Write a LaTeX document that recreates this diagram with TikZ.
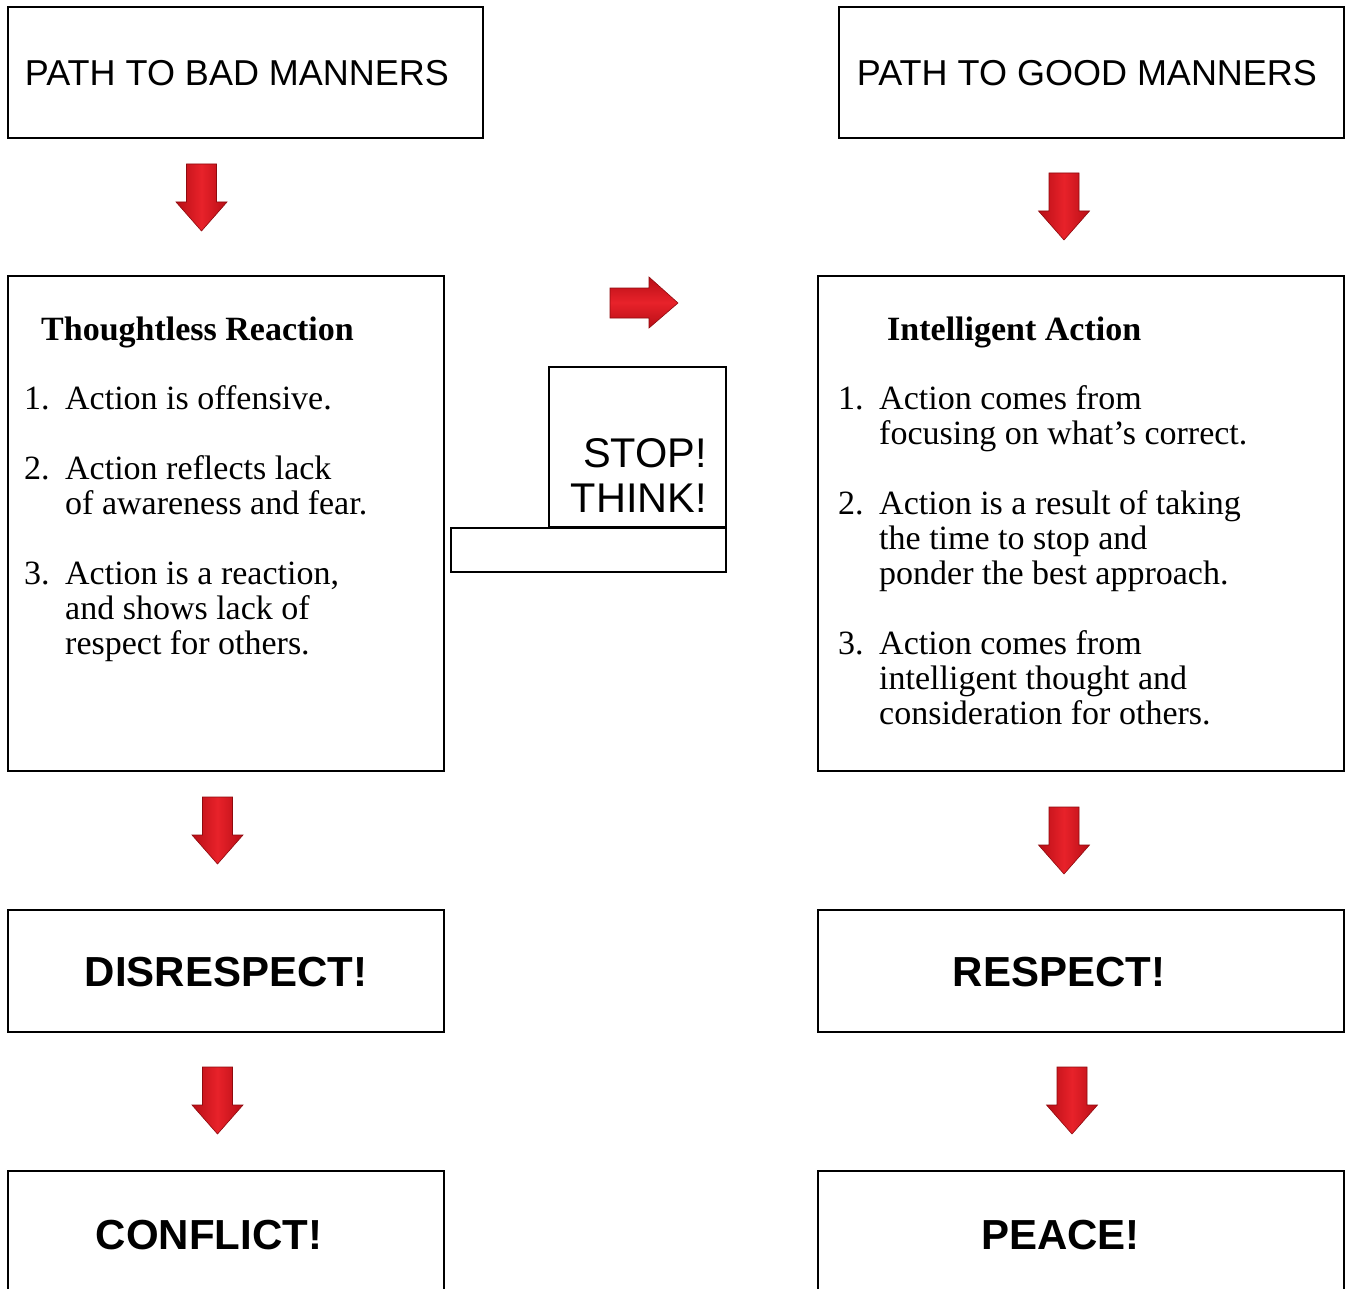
\documentclass[tikz,border=0pt]{standalone}
\usepackage{fontspec}
\setmainfont{Liberation Serif}
\newfontfamily\headsans{Liberation Sans}
\usetikzlibrary{fit}
\definecolor{arrmid}{HTML}{E8222A}
\definecolor{arredge}{HTML}{B80E16}
\definecolor{arrline}{HTML}{8E0A0E}
\tikzset{
  box/.style={draw, line width=1.8pt, inner sep=0pt},
  txt/.style={inner sep=0pt, anchor=base west, font=\fontsize{34}{35}\selectfont},
  txtb/.style={txt, font=\fontsize{34}{35}\selectfont\bfseries},
  title/.style={inner sep=0pt, anchor=base, font=\headsans\fontsize{36}{40}\selectfont},
  big/.style={inner sep=0pt, anchor=base, font=\headsans\bfseries\fontsize{42}{46}\selectfont},
  stoptxt/.style={inner sep=0pt, anchor=base east, font=\headsans\fontsize{41.5}{46}\selectfont},
  darr/.style={left color=arredge, right color=arredge, middle color=arrmid, draw=arrline, line width=0.6pt, line join=miter},
  rarr/.style={top color=arredge, bottom color=arredge, middle color=arrmid, draw=arrline, line width=0.6pt, line join=miter}
}
\newcommand{\dnarrow}[2]{%
  \path[darr] ({#1-15},{#2}) -- ({#1+15},{#2}) -- ({#1+15},{#2+38}) -- ({#1+25.5},{#2+38})
    -- ({#1},{#2+67}) -- ({#1-25.5},{#2+38}) -- ({#1-15},{#2+38}) -- cycle;}
\begin{document}
\begin{tikzpicture}[x=1pt,y=-1pt]
\clip (0,0) rectangle (1351,1289);
\fill[white] (0,0) rectangle (1351,1289);

% top boxes
\coordinate (b1a) at (8,7); \coordinate (b1b) at (483,138);
\node[box, fit=(b1a)(b1b)] (bad) {};
\node[title] (badt) at (237,86) {PATH TO BAD MANNERS};
\coordinate (g1a) at (839,7); \coordinate (g1b) at (1344,138);
\node[box, fit=(g1a)(g1b)] (good) {};
\node[title] (goodt) at (1087,86) {PATH TO GOOD MANNERS};

% main boxes
\coordinate (tra) at (8,276); \coordinate (trb) at (444,771);
\node[box, fit=(tra)(trb)] (thought) {};
\coordinate (iaa) at (818,276); \coordinate (iab) at (1344,771);
\node[box, fit=(iaa)(iab)] (intel) {};

% left text
\node[txtb] (th) at (41,340) {Thoughtless Reaction};
\node[txt] (ln1) at (24,409) {1.};
\node[txt] (l1a) at (65,409) {Action is offensive.};
\node[txt] (ln2) at (24,479) {2.};
\node[txt] (l2a) at (65,479) {Action reflects lack};
\node[txt] (l2b) at (65,514) {of awareness and fear.};
\node[txt] (ln3) at (24,584) {3.};
\node[txt] (l3a) at (65,584) {Action is a reaction,};
\node[txt] (l3b) at (65,619) {and shows lack of};
\node[txt] (l3c) at (65,654) {respect for others.};

% right text
\node[txtb] (ih) at (887,340) {Intelligent Action};
\node[txt] (rn1) at (838,409) {1.};
\node[txt] (r1a) at (879,409) {Action comes from};
\node[txt] (r1b) at (879,444) {focusing on what’s correct.};
\node[txt] (rn2) at (838,514) {2.};
\node[txt] (r2a) at (879,514) {Action is a result of taking};
\node[txt] (r2b) at (879,549) {the time to stop and};
\node[txt] (r2c) at (879,584) {ponder the best approach.};
\node[txt] (rn3) at (838,654) {3.};
\node[txt] (r3a) at (879,654) {Action comes from};
\node[txt] (r3b) at (879,689) {intelligent thought and};
\node[txt] (r3c) at (879,724) {consideration for others.};

% stop think
\coordinate (sa) at (549,367); \coordinate (sb) at (726,527);
\node[box, fit=(sa)(sb)] (stop) {};
\node[stoptxt] (stopt) at (707,467) {STOP!};
\node[stoptxt] (thinkt) at (707,512) {THINK!};
\coordinate (pa) at (451,528); \coordinate (pb) at (726,572);
\node[box, fit=(pa)(pb)] (plate) {};

% right arrow
\path[rarr] (610,288) -- (649,288) -- (649,277) -- (678,303) -- (649,328) -- (649,318) -- (610,318) -- cycle;

% lower boxes
\coordinate (da) at (8,910); \coordinate (db) at (444,1032);
\node[box, fit=(da)(db)] (disr) {};
\node[big] (disrt) at (226,986) {DISRESPECT!};
\coordinate (ra) at (818,910); \coordinate (rb) at (1344,1032);
\node[box, fit=(ra)(rb)] (resp) {};
\node[big] (respt) at (1059,986) {RESPECT!};
\coordinate (ca) at (8,1171); \coordinate (cb) at (444,1310);
\node[box, fit=(ca)(cb)] (confl) {};
\node[big] (conflt) at (209,1249) {CONFLICT!};
\coordinate (pea) at (818,1171); \coordinate (peb) at (1344,1310);
\node[box, fit=(pea)(peb)] (peace) {};
\node[big] (peacet) at (1060.5,1249) {PEACE!};

% down arrows
\dnarrow{201.5}{164}
\dnarrow{1064}{173}
\dnarrow{217.5}{797}
\dnarrow{1064}{807}
\dnarrow{217.5}{1067}
\dnarrow{1072}{1067}
\end{tikzpicture}
\end{document}
